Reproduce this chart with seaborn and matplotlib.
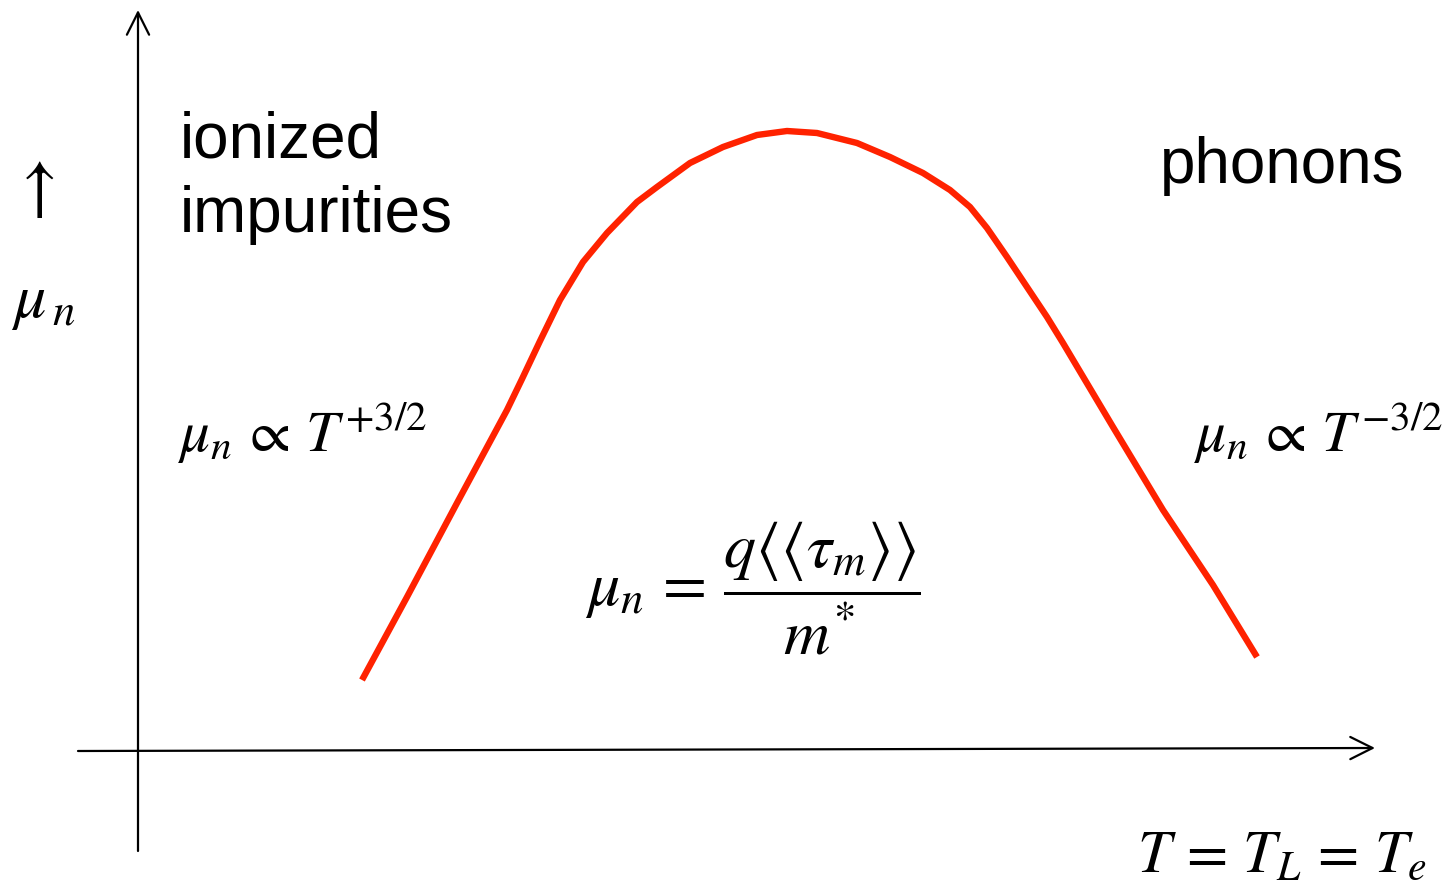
import matplotlib
matplotlib.use("Agg")
import matplotlib.pyplot as plt
import seaborn as sns
import pandas as pd

sns.set_theme(style="white")
plt.rcParams["font.family"] = ["Liberation Sans", "DejaVu Sans"]
plt.rcParams["mathtext.fontset"] = "stix"
plt.rcParams["text.color"] = "black"

# Temperature (arbitrary units) and electron mobility (arbitrary units)
temperature = [2.24, 2.69, 3.19, 3.69, 3.84, 4.02, 4.22, 4.45, 4.69, 4.99, 5.19, 5.52,
               5.85, 6.19, 6.49, 6.79, 7.19, 7.52, 7.85, 8.12, 8.32, 8.49, 8.69, 8.89,
               9.09, 9.25, 9.75, 10.25, 10.75, 11.19]
mobility = [0.71, 1.54, 2.48, 3.41, 3.72, 4.10, 4.51, 4.89, 5.18, 5.49, 5.64, 5.88,
            6.04, 6.16, 6.20, 6.18, 6.08, 5.94, 5.78, 5.61, 5.44, 5.23, 4.94, 4.64,
            4.34, 4.08, 3.24, 2.41, 1.66, 0.94]

df = pd.DataFrame({"T": temperature, "mu": mobility})

fig = plt.figure(figsize=(14.47, 8.94), dpi=100)
ax = fig.add_axes([0, 0, 1, 1])
ax.set_xlim(-1.38, 13.09)
ax.set_ylim(-1.43, 7.51)
ax.axis("off")

sns.lineplot(data=df, x="T", y="mu", ax=ax, color="#ff2200", linewidth=4.6,
             estimator=None, sort=False)
for ln in ax.lines:
    ln.set_solid_joinstyle("round")
    ln.set_solid_capstyle("butt")

# coordinate axes drawn as arrows
arrow = dict(arrowstyle="->,head_length=0.4,head_width=0.2", color="black",
             lw=1.6, mutation_scale=40, shrinkA=0, shrinkB=0)
ax.annotate("", xy=(0, 7.41), xytext=(0, -1.00), arrowprops=arrow)
ax.annotate("", xy=(12.37, 0.03), xytext=(-0.60, 0.0), arrowprops=arrow)

# labels
ax.text(-1.05, 5.62, r"$\uparrow$", fontsize=50, ha="center", va="center")
ax.text(-0.95, 4.49, r"$\mu_{\,n}$", fontsize=46, ha="center", va="center")

ax.text(0.42, 5.93, "ionized", fontsize=46, ha="left", va="baseline")
ax.text(0.42, 5.19, "impurities", fontsize=46, ha="left", va="baseline")
ax.text(10.22, 5.68, "phonons", fontsize=46, ha="left", va="baseline")

ax.text(0.40, 2.99, r"$\mu_n\,\propto\,T^{+3/2}$", fontsize=42.5, ha="left", va="baseline")
ax.text(10.56, 2.99, r"$\mu_n\,\propto\,T^{-3/2}$", fontsize=42.5, ha="left", va="baseline")

ax.text(4.47, 1.63,
        r"$\mu_n\,=\,\dfrac{q\left\langle\left\langle\tau_m\right\rangle\right\rangle}{m^{*}}$",
        fontsize=46, ha="left", va="center")

ax.text(11.44, -1.21, r"$T\,=\,T_L\,=\,T_e$", fontsize=43, ha="center", va="baseline")

fig.savefig("out.png", dpi=100)
